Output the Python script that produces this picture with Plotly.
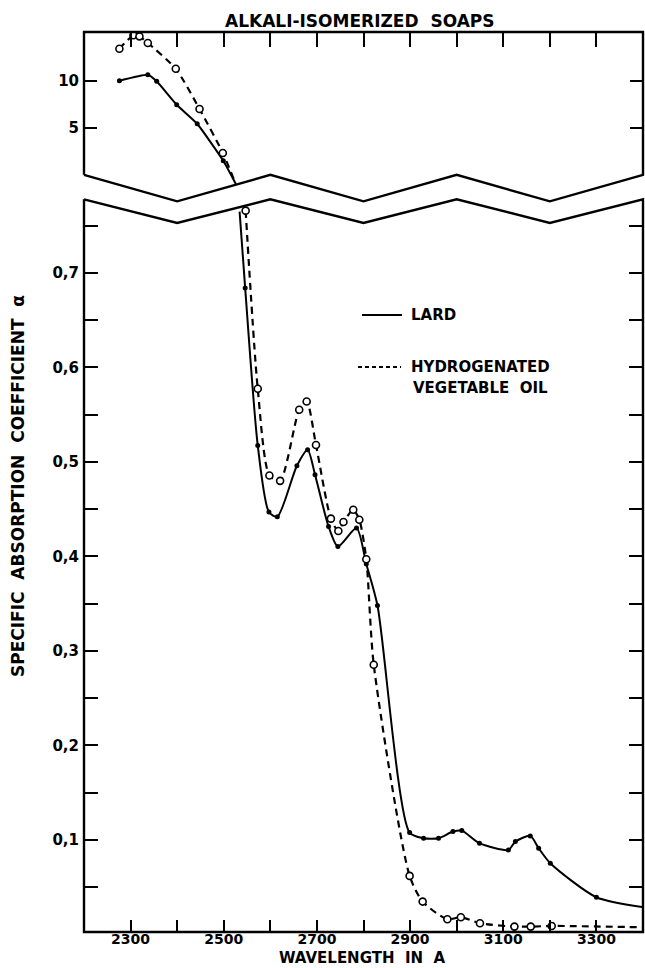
import plotly.graph_objects as go

# ---------------- data ----------------
# Upper panel (specific absorption coefficient, large values)
lard_up_x = [2276, 2337, 2356, 2399, 2443, 2499, 2526]
lard_up_y = [10.0, 10.63, 9.94, 7.46, 5.45, 1.54, -0.92]
hydro_up_x = [2276, 2306, 2319, 2337, 2397, 2448, 2498, 2522]
hydro_up_y = [13.38, 14.80, 14.69, 13.99, 11.27, 7.01, 2.36, -0.47]

# Lower panel
lard_lo_x = [2534, 2546, 2573, 2597, 2615, 2657, 2680, 2696, 2725, 2745, 2785,
             2806, 2830, 2899, 2929, 2961, 2992, 3011, 3049, 3111, 3126, 3158,
             3176, 3201, 3300, 3398]
lard_lo_y = [0.765, 0.684, 0.5175, 0.447, 0.442, 0.496, 0.513, 0.4865, 0.4317,
             0.4105, 0.430, 0.392, 0.348, 0.1077, 0.1018, 0.1018, 0.1088, 0.1098,
             0.0965, 0.0894, 0.0982, 0.1042, 0.0912, 0.0753, 0.0393, 0.029]
hydro_lo_x = [2547, 2573, 2598, 2621, 2662, 2678, 2698, 2730, 2746, 2757, 2778,
              2791, 2806, 2822, 2899, 2927, 2980, 3009, 3050, 3124, 3159, 3204,
              3398]
hydro_lo_y = [0.766, 0.5775, 0.4857, 0.480, 0.5553, 0.564, 0.518, 0.440, 0.427,
              0.4364, 0.4494, 0.4388, 0.397, 0.2853, 0.0619, 0.0347, 0.016, 0.0181,
              0.0118, 0.0082, 0.0082, 0.0089, 0.0075]

# axis breaks (zig-zag vertices) and ranges
break_x = [2200, 2400, 2600, 2800, 3000, 3200, 3400]
x_range = [2200, 3400]
up_range = [-2.75, 15.15]
up_break = [0.05, -2.75]          # high / low zig-zag values in the upper panel
lo_range = [0.0025, 0.778]
lo_break = [0.778, 0.753]         # high / low zig-zag values in the lower panel
up_tickvals = [5, 10]

title_text = "ALKALI-ISOMERIZED  SOAPS"
x_title = "WAVELENGTH  IN  A"
y_title = "SPECIFIC  ABSORPTION  COEFFICIENT  α"
lard_name = "LARD"
hydro_name = ["HYDROGENATED", "VEGETABLE  OIL"]

# ---------------- layout geometry ----------------
W, H = 645, 968
L, R, T, B = 84, 2, 32, 36
PW, PH = W - L - R, H - T - B
lo_dom = [0, 0.8141]
up_dom = [0.8119, 1.0]

FONT = "DejaVu Sans"
INK = "black"


def px2x(px):
    return (px - L) / PW


def py2y(py):
    return (H - B - py) / PH


def xpaper(v):
    return (v - x_range[0]) / (x_range[1] - x_range[0])


def ypaper(v, rng, dom):
    return dom[0] + (v - rng[0]) / (rng[1] - rng[0]) * (dom[1] - dom[0])


def bold(t):
    return "<b>" + t + "</b>"


fig = go.Figure()

# upper panel traces
fig.add_trace(go.Scatter(x=hydro_up_x, y=hydro_up_y, xaxis="x2", yaxis="y2",
                         mode="lines", line=dict(color=INK, width=2.2, dash="7px,5px",
                                                 shape="spline", smoothing=0.6),
                         showlegend=False, hoverinfo="skip"))
fig.add_trace(go.Scatter(x=lard_up_x, y=lard_up_y, xaxis="x2", yaxis="y2",
                         mode="lines", line=dict(color=INK, width=2, shape="spline", smoothing=0.4),
                         showlegend=False, hoverinfo="skip"))
fig.add_trace(go.Scatter(x=lard_up_x[:-1], y=lard_up_y[:-1], xaxis="x2", yaxis="y2",
                         mode="markers", marker=dict(color=INK, size=5),
                         showlegend=False))
fig.add_trace(go.Scatter(x=hydro_up_x[:-1], y=hydro_up_y[:-1], xaxis="x2", yaxis="y2",
                         mode="markers",
                         marker=dict(color="white", size=7, line=dict(color=INK, width=1.6)),
                         showlegend=False, cliponaxis=False))

# lower panel traces
fig.add_trace(go.Scatter(x=hydro_lo_x, y=hydro_lo_y, mode="lines",
                         line=dict(color=INK, width=2.2, dash="7px,5px",
                                   shape="spline", smoothing=0.7),
                         showlegend=False, hoverinfo="skip"))
fig.add_trace(go.Scatter(x=lard_lo_x, y=lard_lo_y, mode="lines",
                         line=dict(color=INK, width=2, shape="spline", smoothing=0.7),
                         showlegend=False, hoverinfo="skip"))
fig.add_trace(go.Scatter(x=lard_lo_x[1:-1], y=lard_lo_y[1:-1], mode="markers",
                         marker=dict(color=INK, size=5), name=lard_name, showlegend=False))
fig.add_trace(go.Scatter(x=hydro_lo_x[:-1], y=hydro_lo_y[:-1], mode="markers",
                         marker=dict(color="white", size=7, line=dict(color=INK, width=1.6)),
                         name=" ".join(hydro_name), showlegend=False))


# ---------------- frames with zig-zag breaks ----------------
def frame_path(rng, dom, edge_val, hi, lo):
    pts = [(xpaper(x_range[0]), ypaper(hi, rng, dom)),
           (xpaper(x_range[0]), ypaper(edge_val, rng, dom)),
           (xpaper(x_range[1]), ypaper(edge_val, rng, dom))]
    for i, bx in enumerate(reversed(break_x)):
        v = hi if i % 2 == 0 else lo
        pts.append((xpaper(bx), ypaper(v, rng, dom)))
    return "M " + " L ".join(f"{a:.5f},{b:.5f}" for a, b in pts)


shapes = [
    dict(type="path", xref="paper", yref="paper",
         path=frame_path(up_range, up_dom, up_range[1], up_break[0], up_break[1]),
         line=dict(color=INK, width=2.4)),
    dict(type="path", xref="paper", yref="paper",
         path=frame_path(lo_range, lo_dom, lo_range[0], lo_break[0], lo_break[1]),
         line=dict(color=INK, width=2.4)),
    # legend samples
    dict(type="line", xref="paper", yref="paper", x0=px2x(362), x1=px2x(402),
         y0=py2y(315), y1=py2y(315), line=dict(color=INK, width=2)),
    dict(type="line", xref="paper", yref="paper", x0=px2x(358), x1=px2x(401),
         y0=py2y(367), y1=py2y(367), line=dict(color=INK, width=2.2, dash="4px,3px")),
]

annotations = [
    dict(text=bold(title_text), xref="paper", yref="paper", x=px2x(360), y=py2y(21),
         xanchor="center", yanchor="middle", showarrow=False,
         font=dict(family=FONT, size=17, color=INK)),
    dict(text=bold(x_title), xref="paper", yref="paper", x=px2x(362), y=py2y(958),
         xanchor="center", yanchor="middle", showarrow=False, borderpad=0,
         font=dict(family=FONT, size=15, color=INK)),
    dict(text=bold(y_title), xref="paper", yref="paper", x=px2x(18), y=py2y(486),
         xanchor="center", yanchor="middle", showarrow=False, textangle=-90,
         font=dict(family=FONT, size=17, color=INK)),
    dict(text=bold(lard_name), xref="paper", yref="paper", x=px2x(409), y=py2y(315),
         xanchor="left", yanchor="middle", showarrow=False,
         font=dict(family=FONT, size=15, color=INK)),
    dict(text=bold(hydro_name[0]), xref="paper", yref="paper", x=px2x(409), y=py2y(367),
         xanchor="left", yanchor="middle", showarrow=False,
         font=dict(family=FONT, size=15, color=INK)),
    dict(text=bold(hydro_name[1]), xref="paper", yref="paper", x=px2x(411), y=py2y(388),
         xanchor="left", yanchor="middle", showarrow=False,
         font=dict(family=FONT, size=15, color=INK)),
]

tickfont = dict(family=FONT, size=15, color=INK, weight="bold")
xtickfont = dict(family=FONT, size=14, color=INK, weight="bold")
common = dict(showgrid=False, zeroline=False, showline=False, ticks="inside",
              tickcolor=INK, tickwidth=2)

fig.update_layout(
    width=W, height=H,
    margin=dict(l=L, r=R, t=T, b=B),
    paper_bgcolor="white", plot_bgcolor="white",
    separators=",.",
    showlegend=False,
    shapes=shapes,
    annotations=annotations,
    xaxis=dict(domain=[0, 1], range=x_range, anchor="y", tick0=2300, dtick=200,
               ticklen=12, tickfont=xtickfont, ticklabelstandoff=-3,
               minor=dict(dtick=100, tick0=2300, ticks="inside", ticklen=12,
                          tickwidth=2, tickcolor=INK),
               **common),
    xaxis2=dict(domain=[0, 1], range=x_range, anchor="y2", side="top", matches="x",
                tick0=2200, dtick=100, ticklen=15, showticklabels=False, **common),
    yaxis=dict(domain=lo_dom, range=lo_range, anchor="x", tick0=0, dtick=0.1,
               ticklen=14, mirror="ticks", ticklabelstandoff=4, tickfont=tickfont,
               minor=dict(dtick=0.05, tick0=0, ticks="inside", ticklen=14,
                          tickwidth=2, tickcolor=INK),
               **common),
    yaxis2=dict(domain=up_dom, range=up_range, anchor="x2", tickvals=up_tickvals,
                ticklen=13, mirror="ticks", ticklabelstandoff=4, tickfont=tickfont,
                **common),
)

fig.write_html("out.html",
               config={"displayModeBar": False},
               post_script="document.body.style.margin='0px';"
                           "document.body.style.overflow='hidden';")
